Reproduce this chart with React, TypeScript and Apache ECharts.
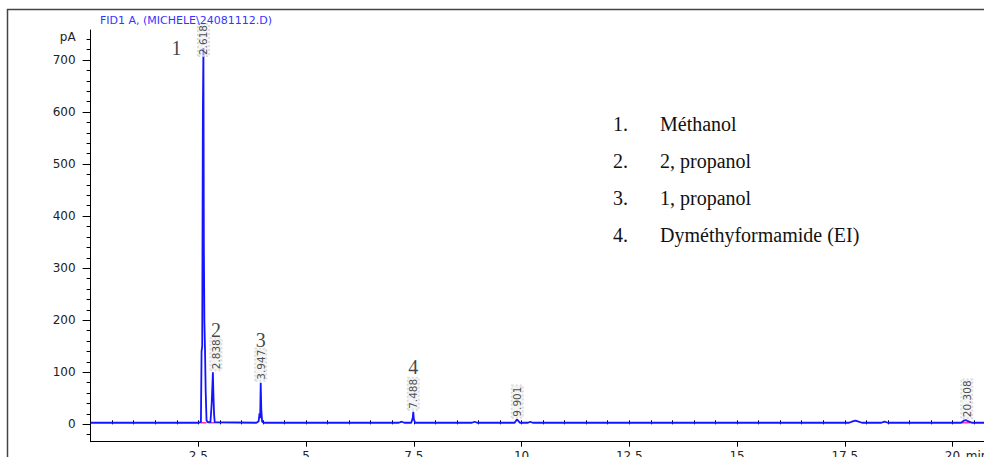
import React, { useEffect, useRef } from "react";
import * as echarts from "echarts";

// ---- Data ----
const traceTime: number[] = [
  0, 2.5, 2.56, 2.575, 2.59, 2.605, 2.618, 2.628, 2.64, 2.655, 2.67, 2.69, 2.72,
  2.78, 2.81, 2.838, 2.85, 2.865, 2.88,
  3.85, 3.9, 3.92, 3.935, 3.947, 3.96, 3.98, 4.02,
  7.15, 7.22, 7.28,
  7.44, 7.475, 7.488, 7.5, 7.53,
  8.85, 8.91, 8.97,
  9.84, 9.88, 9.901, 9.93, 9.96,
  10.15, 10.2, 10.26,
  17.6, 17.7, 17.75, 17.82, 17.9,
  18.35, 18.42, 18.5,
  20.2, 20.26, 20.308, 20.36, 20.45, 21,
];
const traceSignal: number[] = [
  3, 3, 4, 140, 150, 600, 723, 345, 200, 142, 65, 8, 4,
  4, 40, 100, 57, 20, 4,
  3, 6, 21, 12, 80, 30, 5, 3,
  3, 5, 3,
  3, 12, 24, 10, 3,
  3, 5, 3,
  3, 8, 9, 6, 3,
  3, 5, 3,
  3, 6, 7, 5, 3,
  3, 5, 3,
  3, 7, 8, 6, 3, 3,
];

const peakTimes: number[] = [2.618, 2.838, 3.947, 7.488, 9.901, 20.308];
const peakHeights: number[] = [723, 100, 80, 24, 9, 8];
const peakLabels: string[] = ["2.618", "2.838", "3.947", "7.488", "9.901", "20.308"];

const compoundNumbers: string[] = ["1", "2", "3", "4"];
const compoundNames: string[] = ["Méthanol", "2, propanol", "1, propanol", "Dyméthyformamide (EI)"];

// integration baseline marks (start, end)
const baselineStarts: number[] = [2.56, 2.78, 20.22];
const baselineEnds: number[] = [2.69, 2.88, 20.42];

const yTickLabels: number[] = [0, 100, 200, 300, 400, 500, 600, 700];
const xTickLabels: number[] = [2.5, 5, 7.5, 10, 12.5, 15, 17.5, 20];

const title = "FID1 A, (MICHELE\\24081112.D)";

// ---- Style ----
const Y_MIN = -33.4;
const Y_MAX = 757.7;
const X_MIN = 0;
const X_MAX = 21;
const TRACE_COLOR = "#1414ff";
const LABEL_FONT = "DejaVu Sans";
const SERIF = "Liberation Serif";
// offsets are in the rotated label frame: [-d, 0] moves down, [0, d] moves right
const peakLabelNudge: number[][] = [[-10, 0], [0, 3], [0, 0], [0, 0], [0, 0], [0, 1]];
const numberOffsets: number[][] = [[-27, 0], [3, -42], [0, -43], [0, -45]];

export default function App() {
  const ref = useRef<HTMLDivElement>(null);

  useEffect(() => {
    if (!ref.current) return;
    const chart = echarts.init(ref.current, undefined, { renderer: "svg" });

    const traceData = traceTime.map((t, i) => [t, traceSignal[i]]);
    const baselineData: any[] = [];
    baselineStarts.forEach((s, i) => {
      baselineData.push([s, 3], [baselineEnds[i], 3], [baselineEnds[i], "-"]);
    });

    const minorY: number[] = [];
    for (let v = -20; v <= 740; v += 20) minorY.push(v);
    const minorX: number[] = [];
    for (let v = 0.5; v <= 21; v += 0.5) minorX.push(v);

    const option: any = {
      animation: false,
      backgroundColor: "#ffffff",
      title: {
        text: title,
        left: 95,
        top: 10,
        textStyle: { fontFamily: LABEL_FONT, fontSize: 11, fontWeight: "normal", color: "#3535ff" },
      },
      grid: {
        left: 90.6,
        top: 30,
        width: 905,
        height: 411.7,
        containLabel: false,
        outerBoundsMode: "none",
      },
      xAxis: [
        {
          type: "value",
          min: X_MIN,
          max: X_MAX,
          position: "bottom",
          axisLine: { show: true, onZero: false, lineStyle: { color: "#000", width: 1 } },
          axisTick: { show: true, inside: false, length: 5, customValues: xTickLabels, lineStyle: { color: "#000" } },
          axisLabel: {
            show: true,
            customValues: [...xTickLabels, 20.57],
            formatter: (v: number) => (v > 20.5 ? "min" : String(v)),
            fontFamily: LABEL_FONT,
            fontSize: 12,
            color: "#222",
            margin: 8,
          },
          splitLine: { show: false },
        },
        {
          type: "value",
          min: X_MIN,
          max: X_MAX,
          position: "bottom",
          axisLine: { show: false },
          axisTick: { show: true, inside: true, length: 4, customValues: minorX, lineStyle: { color: "#000" } },
          axisLabel: { show: false },
          splitLine: { show: false },
        },
      ],
      yAxis: [
        {
          type: "value",
          min: Y_MIN,
          max: Y_MAX,
          position: "left",
          axisLine: { show: true, onZero: false, lineStyle: { color: "#000", width: 1 } },
          axisTick: { show: true, inside: false, length: 8, customValues: yTickLabels, lineStyle: { color: "#000" } },
          axisLabel: {
            show: true,
            customValues: [...yTickLabels, 745],
            formatter: (v: number) => (v > 740 ? "pA" : String(v)),
            fontFamily: LABEL_FONT,
            fontSize: 12,
            color: "#222",
            margin: 15,
          },
          splitLine: { show: false },
        },
        {
          type: "value",
          min: Y_MIN,
          max: Y_MAX,
          position: "left",
          axisLine: { show: false },
          axisTick: { show: true, inside: false, length: 4, customValues: minorY, lineStyle: { color: "#000" } },
          axisLabel: { show: false },
          splitLine: { show: false },
        },
      ],
      series: [
        {
          name: "baseline",
          type: "line",
          data: baselineData,
          symbol: "none",
          connectNulls: false,
          lineStyle: { color: "#ff3399", width: 1.5 },
          z: 1,
        },
        {
          name: "FID1 A",
          type: "line",
          data: traceData,
          symbol: "none",
          lineStyle: { color: TRACE_COLOR, width: 1.8 },
          z: 2,
        },
        {
          name: "retention times",
          type: "scatter",
          symbolSize: 0,
          data: peakTimes.map((t, i) => ({
            value: [t, peakHeights[i]],
            label: { offset: peakLabelNudge[i] },
          })),
          label: {
            show: true,
            position: "top",
            distance: 2,
            rotate: 90,
            align: "left",
            verticalAlign: "middle",
            formatter: (p: any) => peakLabels[p.dataIndex],
            fontFamily: LABEL_FONT,
            fontSize: 10.5,
            color: "#222",
            backgroundColor: "rgba(236,236,236,0.7)",
            borderColor: "#d0d0d0",
            borderType: "dotted",
            borderWidth: 1,
            padding: [0, 1, 0, 1],
          },
          z: 5,
        },
        {
          name: "compound numbers",
          type: "scatter",
          symbolSize: 0,
          data: compoundNumbers.map((n, i) => ({
            value: [peakTimes[i], peakHeights[i]],
            label: { offset: numberOffsets[i] },
          })),
          label: {
            show: true,
            position: "inside",
            formatter: (p: any) => compoundNumbers[p.dataIndex],
            fontFamily: SERIF,
            fontSize: 20,
            color: "#111",
          },
          z: 6,
        },
      ],
      graphic: [
        {
          type: "rect",
          shape: { x: 7.5, y: 9.5, width: 1000, height: 500 },
          style: { fill: "none", stroke: "#444", lineWidth: 1.5 },
          silent: true,
          z: 0,
        },
        ...compoundNames.flatMap((name, i) => [
          {
            type: "text",
            x: 613,
            y: 123.5 + i * 37.3,
            style: {
              text: `${compoundNumbers[i]}.`,
              fontFamily: SERIF,
              fontSize: 20,
              fill: "#111",
              verticalAlign: "middle",
            },
          },
          {
            type: "text",
            x: 660,
            y: 123.5 + i * 37.3,
            style: {
              text: name,
              fontFamily: SERIF,
              fontSize: 20,
              fill: "#111",
              verticalAlign: "middle",
            },
          },
        ]),
      ],
    };

    chart.setOption(option);
    return () => chart.dispose();
  }, []);

  return (
    <div
      ref={ref}
      style={{ position: "absolute", left: 0, top: 0, width: 984, height: 457, background: "#fff" }}
    />
  );
}
